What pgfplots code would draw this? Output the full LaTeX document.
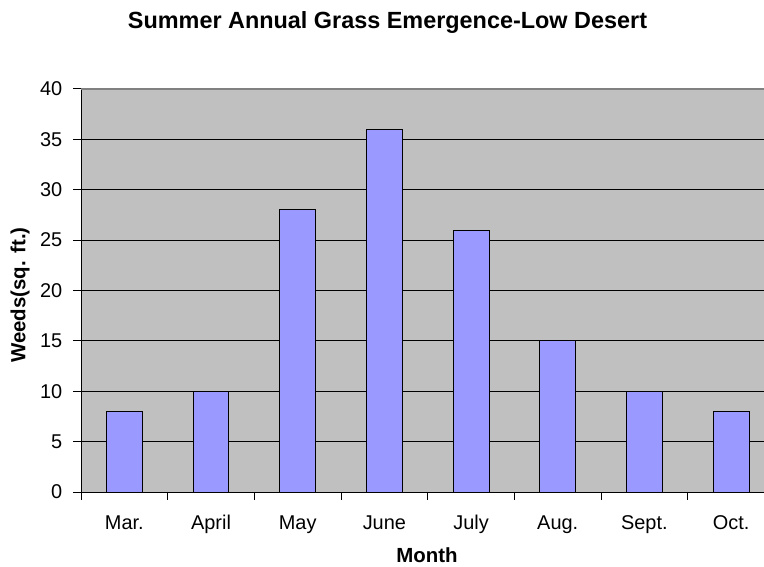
\documentclass[border=0pt]{standalone}
\usepackage{pgfplots}
\pgfplotsset{compat=1.18}
\usepackage{fontspec}
\setmainfont{Liberation Sans}
\definecolor{plotbg}{HTML}{C0C0C0}
\definecolor{barfill}{HTML}{9999FF}
\begin{document}
\begin{tikzpicture}
\begin{axis}[
  scale only axis,
  width=683bp, height=403bp,
  at={(0,0)}, anchor=south west,
  xmin=-0.5, xmax=7.38,
  ymin=0, ymax=40,
  axis x line=bottom, axis y line=left,
  axis line style={-, black, line width=1pt},
  axis background/.style={fill=plotbg},
  xtick={-0.5,0.5,...,6.5},
  xticklabels={},
  extra x ticks={0,1,2,3,4,5,6,7},
  extra x tick labels={Mar.,April,May,June,July,Aug.,Sept.,Oct.},
  extra x tick style={major tick length=0pt, tick style={draw=none}, xticklabel style={anchor=base, inner sep=0pt, yshift=-37bp}},
  ytick={0,5,...,35},
  extra y ticks={40},
  extra y tick style={grid style={draw=gray, line width=1.2pt}},
  ymajorgrids,
  grid style={black, line width=1pt},
  tick style={black, line width=1pt},
  major tick length=7.5bp,
  tick align=outside,
  /pgf/number format/assume math mode=true,
  tick label style={font=\fontsize{20}{20}\selectfont},
  yticklabel style={anchor=east, inner sep=0pt, xshift=-11bp},
  title={Summer Annual Grass Emergence-Low Desert},
  title style={font=\bfseries\fontsize{23.5}{23.5}\selectfont, at={(axis description cs:0.4488,1.151)}, anchor=center},
  xlabel={Month},
  xlabel style={font=\bfseries\fontsize{20.5}{20.5}\selectfont, at={(axis description cs:0.5066,-0.156)}, anchor=center},
  ylabel={Weeds(sq. ft.)},
  ylabel style={font=\bfseries\fontsize{20.5}{20.5}\selectfont, at={(axis description cs:-0.0893,0.489)}, anchor=center, rotate=0},
  clip=true,
]
\addplot[ybar, bar width=0.415, fill=barfill, draw=black, line width=1pt]
  coordinates {(0,8) (1,10) (2,28) (3,36) (4,26) (5,15) (6,10) (7,8)};
\end{axis}
\pgfresetboundingbox
\path[use as bounding box] (-81bp,-75bp) rectangle (683bp,492bp);
\end{tikzpicture}
\end{document}
